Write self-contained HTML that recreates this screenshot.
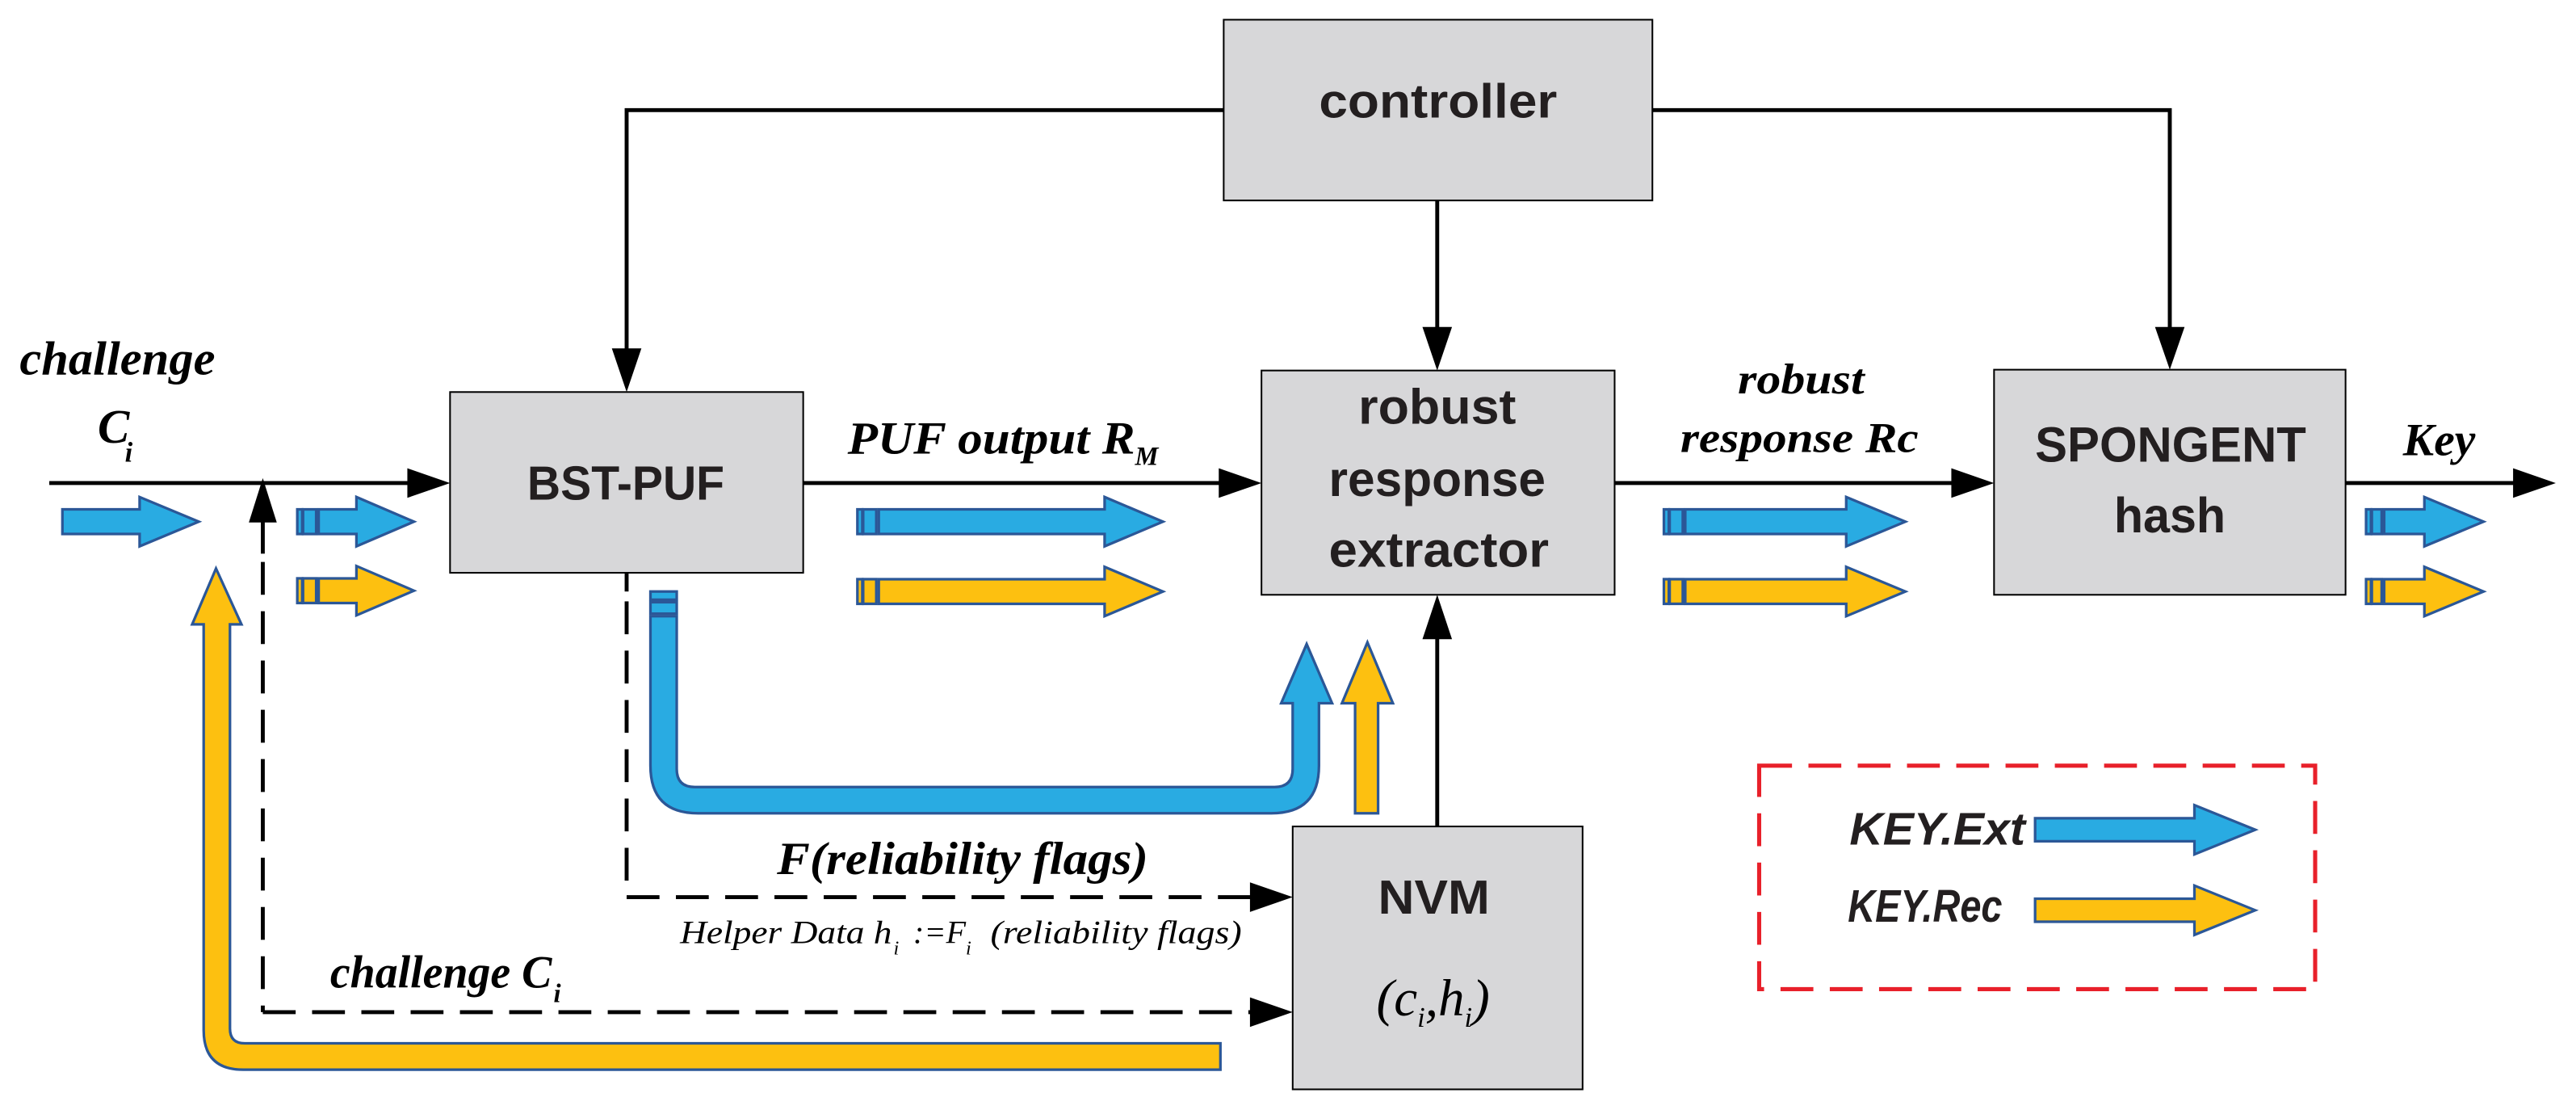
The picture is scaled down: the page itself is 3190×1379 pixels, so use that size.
<!DOCTYPE html>
<html><head><meta charset="utf-8"><style>
html,body{margin:0;padding:0;background:#fff;}
svg{display:block;}
.sb{font-family:"Liberation Sans",sans-serif;font-weight:bold;fill:#231f20;}
.si{font-family:"Liberation Serif",serif;font-weight:bold;font-style:italic;fill:#000;}
.sn{font-family:"Liberation Serif",serif;font-weight:normal;font-style:italic;fill:#000;}
.bl{fill:#29abe2;stroke:#2b5797;stroke-width:1.6;}
.ye{fill:#fdc010;stroke:#2b5797;stroke-width:1.6;}
.box{fill:#d7d7d9;stroke:#000;stroke-width:1;}
</style></head><body>
<svg width="3190" height="1379" viewBox="0 0 1568.3 678" preserveAspectRatio="none" xmlns="http://www.w3.org/2000/svg">
<rect class="box" x="745" y="12" width="261" height="110"/>
<rect class="box" x="274" y="238.6" width="215" height="110"/>
<rect class="box" x="768" y="225.5" width="215" height="136.5"/>
<rect class="box" x="1214" y="225" width="214" height="137"/>
<rect class="box" x="787" y="503" width="176.5" height="160"/>

<g stroke="#000" stroke-width="2.4" fill="none">
<line x1="30" y1="294" x2="250" y2="294"/>
<line x1="489" y1="294" x2="744" y2="294"/>
<line x1="983" y1="294" x2="1190" y2="294"/>
<line x1="1428" y1="294" x2="1531" y2="294"/>
<polyline points="745,67 381.5,67 381.5,214"/>
<polyline points="1006,67 1321,67 1321,200"/>
<line x1="875" y1="122" x2="875" y2="200"/>
<line x1="875" y1="503" x2="875" y2="388"/>
<line x1="160" y1="316" x2="160" y2="337"/>
<line x1="381.5" y1="349" x2="381.5" y2="360"/>
</g>
<g stroke="#000" stroke-width="2.4" fill="none" stroke-dasharray="20 10">
<line x1="160" y1="342" x2="160" y2="616"/>
<polyline points="160,616 762,616"/>
<line x1="381.5" y1="366" x2="381.5" y2="546"/>
<polyline points="381.5,546 762,546"/>
</g>
<g fill="#000">
<polygon points="274,294 248,285 248,303"/>
<polygon points="768,294 742,285 742,303"/>
<polygon points="1214,294 1188,285 1188,303"/>
<polygon points="1556,294 1530,285 1530,303"/>
<polygon points="381.5,238.6 372.5,212 390.5,212"/>
<polygon points="1321,225 1312,199 1330,199"/>
<polygon points="875,225.5 866,199 884,199"/>
<polygon points="875,362 866,389 884,389"/>
<polygon points="160,291 151.5,318 168.5,318"/>
<polygon points="787,546 761,537 761,555"/>
<polygon points="787,616 761,607 761,625"/>
</g>

<polygon class="bl" points="38,310 85,310 85,302.5 121,317.5 85,332.5 85,325 38,325"/>
<g>
<rect class="bl" x="181" y="310" width="3" height="15"/><rect class="bl" x="184.5" y="310" width="8" height="15"/>
<polygon class="bl" points="194,310 217,310 217,302.5 252,317.5 217,332.5 217,325 194,325"/>
<rect class="ye" x="181" y="352" width="3" height="15"/><rect class="ye" x="184.5" y="352" width="8" height="15"/>
<polygon class="ye" points="194,352 217,352 217,344.5 252,359.5 217,374.5 217,367 194,367"/>
</g>
<g>
<rect class="bl" x="522" y="310" width="3" height="15"/><rect class="bl" x="525.5" y="310" width="8" height="15"/>
<polygon class="bl" points="535,310 672.5,310 672.5,302.5 708,317.5 672.5,332.5 672.5,325 535,325"/>
<rect class="ye" x="522" y="352.5" width="3" height="15"/><rect class="ye" x="525.5" y="352.5" width="8" height="15"/>
<polygon class="ye" points="535,352.5 672.5,352.5 672.5,345 708,360 672.5,375 672.5,367.5 535,367.5"/>
</g>
<g>
<rect class="bl" x="1013" y="310" width="3" height="15"/><rect class="bl" x="1016.5" y="310" width="8" height="15"/>
<polygon class="bl" points="1026,310 1124,310 1124,302.5 1160,317.5 1124,332.5 1124,325 1026,325"/>
<rect class="ye" x="1013" y="352.5" width="3" height="15"/><rect class="ye" x="1016.5" y="352.5" width="8" height="15"/>
<polygon class="ye" points="1026,352.5 1124,352.5 1124,345 1160,360 1124,375 1124,367.5 1026,367.5"/>
</g>
<g>
<rect class="bl" x="1440.5" y="310" width="3" height="15"/><rect class="bl" x="1444" y="310" width="6" height="15"/>
<polygon class="bl" points="1451.5,310 1476,310 1476,302.5 1512,317.5 1476,332.5 1476,325 1451.5,325"/>
<rect class="ye" x="1440.5" y="352.5" width="3" height="15"/><rect class="ye" x="1444" y="352.5" width="6" height="15"/>
<polygon class="ye" points="1451.5,352.5 1476,352.5 1476,345 1512,360 1476,375 1476,367.5 1451.5,367.5"/>
</g>

<rect class="bl" x="396" y="360" width="16" height="5"/>
<rect class="bl" x="396" y="366.5" width="16" height="7"/>
<path class="bl" d="M396,375 L396,466 Q396,495 425,495 L774,495 Q803,495 803,466 L803,428 L811,428 L795.5,392 L780,428 L787,428 L787,468 Q787,479 776,479 L423,479 Q412,479 412,468 L412,375 Z"/>
<path class="ye" d="M825,495 L825,428 L817,428 L832.5,391 L848,428 L839,428 L839,495 Z"/>
<path class="ye" d="M743,635 L149,635 Q140,635 140,626 L140,380 L147,380 L131.5,346 L117,380 L124,380 L124,627 Q124,651 148,651 L743,651 Z"/>

<rect x="1071" y="466" width="338.5" height="136" fill="none" stroke="#e8202a" stroke-width="2.5" stroke-dasharray="20 10"/>
<polygon class="bl" points="1239,498 1336,498 1336,490 1373,505 1336,520 1336,512 1239,512"/>
<polygon class="ye" points="1239,547 1336,547 1336,539 1373,554 1336,569 1336,561 1239,561"/>
<text class="sb" x="1126" y="514" font-size="28" font-style="italic" textLength="107" lengthAdjust="spacingAndGlyphs">KEY.Ext</text>
<text class="sb" x="1125" y="561" font-size="28" font-style="italic" textLength="94" lengthAdjust="spacingAndGlyphs">KEY.Rec</text>

<text class="sb" x="803" y="71.5" font-size="29" textLength="145" lengthAdjust="spacingAndGlyphs">controller</text>
<text class="sb" x="321" y="304" font-size="29" textLength="120" lengthAdjust="spacingAndGlyphs">BST-PUF</text>
<text class="sb" x="827" y="258" font-size="30" textLength="96" lengthAdjust="spacingAndGlyphs">robust</text>
<text class="sb" x="809" y="302" font-size="30" textLength="132" lengthAdjust="spacingAndGlyphs">response</text>
<text class="sb" x="809" y="345" font-size="30" textLength="134" lengthAdjust="spacingAndGlyphs">extractor</text>
<text class="sb" x="1239" y="281" font-size="30" textLength="165" lengthAdjust="spacingAndGlyphs">SPONGENT</text>
<text class="sb" x="1287" y="324" font-size="30" textLength="68" lengthAdjust="spacingAndGlyphs">hash</text>
<text class="sb" x="839" y="556" font-size="29" textLength="68" lengthAdjust="spacingAndGlyphs">NVM</text>
<text class="sn" x="838" y="618" font-size="32">(c<tspan font-size="17" dy="7">i</tspan><tspan dy="-7">,h</tspan><tspan font-size="17" dy="7">i</tspan><tspan dy="-7">)</tspan></text>

<text class="si" x="12" y="228" font-size="29" textLength="119" lengthAdjust="spacingAndGlyphs">challenge</text>
<text class="si" x="59.5" y="269.5" font-size="29">C</text>
<text class="si" x="76" y="281" font-size="17">i</text>
<text class="si" x="516" y="276" font-size="28" textLength="175" lengthAdjust="spacingAndGlyphs">PUF output R</text>
<text class="si" x="691" y="283" font-size="16">M</text>
<text class="si" x="1058" y="239.5" font-size="26" textLength="77" lengthAdjust="spacingAndGlyphs">robust</text>
<text class="si" x="1023" y="275" font-size="26" textLength="145" lengthAdjust="spacingAndGlyphs">response Rc</text>
<text class="si" x="1463" y="277" font-size="28" textLength="44" lengthAdjust="spacingAndGlyphs">Key</text>
<text class="si" x="473" y="532" font-size="28" textLength="226" lengthAdjust="spacingAndGlyphs">F(reliability flags)</text>
<text class="sn" x="414" y="574" font-size="20" textLength="129" lengthAdjust="spacingAndGlyphs">Helper Data h</text>
<text class="sn" x="544" y="581" font-size="12">i</text>
<text class="sn" x="556" y="574" font-size="20" textLength="32" lengthAdjust="spacingAndGlyphs">:=F</text>
<text class="sn" x="588" y="581" font-size="12">i</text>
<text class="sn" x="603" y="574" font-size="20" textLength="153" lengthAdjust="spacingAndGlyphs">(reliability flags)</text>
<text class="si" x="201" y="601" font-size="28" textLength="135" lengthAdjust="spacingAndGlyphs">challenge C</text>
<text class="si" x="337" y="610" font-size="16">i</text>
</svg>
</body></html>
